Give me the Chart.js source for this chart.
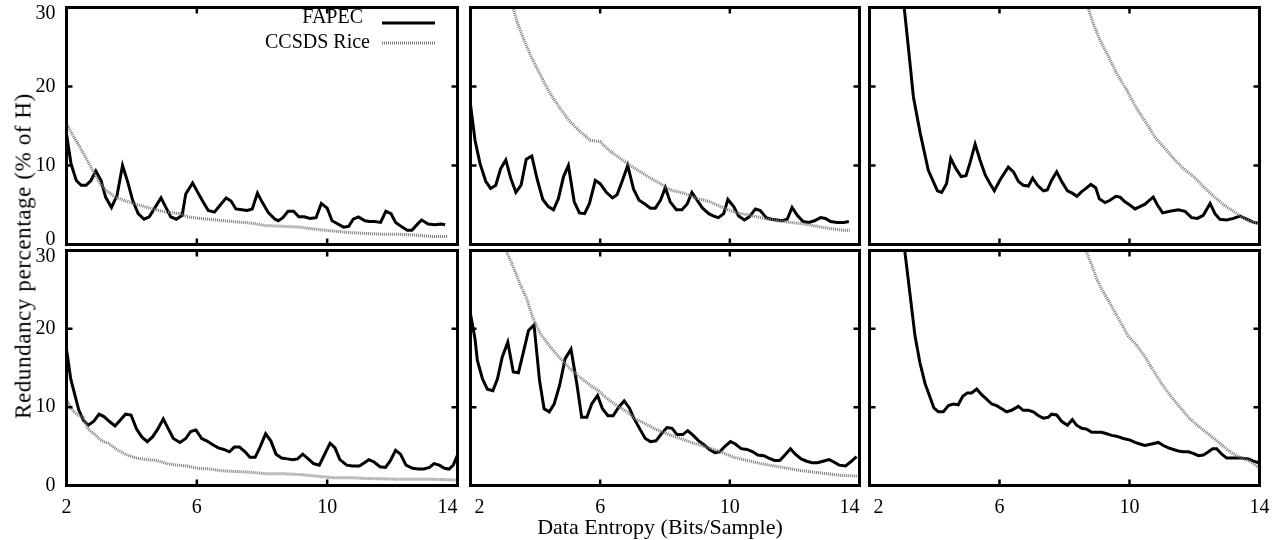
<!DOCTYPE html>
<html><head><meta charset="utf-8">
<script src="https://cdn.jsdelivr.net/npm/chart.js@4.4.1/dist/chart.umd.min.js"></script>
<style>
html,body{margin:0;padding:0;background:#fff;}
#wrap{position:relative;width:1281px;height:540px;overflow:hidden;background:#fff;}
canvas{position:absolute;left:0;top:0;}
.ttl{position:absolute;font-family:"Liberation Serif",serif;color:#000;white-space:nowrap;line-height:1;}
#xt{left:660px;top:527px;font-size:22px;transform:translate(-50%,-50%);}
#yt{left:23px;top:256px;font-size:23px;letter-spacing:0.6px;transform:translate(-50%,-50%) rotate(-90deg);}
</style></head><body>
<div id="wrap">
<canvas id="c0" width="1281" height="540"></canvas>
<canvas id="c1" width="1281" height="540"></canvas>
<canvas id="c2" width="1281" height="540"></canvas>
<canvas id="c3" width="1281" height="540"></canvas>
<canvas id="c4" width="1281" height="540"></canvas>
<canvas id="c5" width="1281" height="540"></canvas>
<div class="ttl" id="xt">Data Entropy (Bits/Sample)</div>
<div class="ttl" id="yt">Redundancy percentage (% of H)</div>
</div>
<script>
// ---- data (entropy in bits/sample, redundancy in % of H) ----
const seriesNames = ["FAPEC", "CCSDS Rice"];
const xTickLabels = [2, 6, 10, 14];
const yTickLabels = [0, 10, 20, 30];

const p1Fapec = [[2.0,14.0],[2.14,10.2],[2.3,8.1],[2.45,7.5],[2.6,7.5],[2.75,8.1],[2.9,9.3],[3.06,8.1],[3.2,6.0],[3.38,4.7],[3.55,6.2],[3.72,10.0],[3.88,7.9],[4.03,5.6],[4.2,3.9],[4.38,3.2],[4.54,3.5],[4.72,4.7],[4.9,5.9],[5.05,4.7],[5.2,3.5],[5.37,3.2],[5.55,3.7],[5.66,6.4],[5.87,7.8],[6.04,6.5],[6.19,5.4],[6.35,4.3],[6.54,4.1],[6.7,4.9],[6.9,5.9],[7.05,5.5],[7.2,4.5],[7.38,4.4],[7.55,4.3],[7.7,4.5],[7.86,6.5],[8.0,5.4],[8.2,4.0],[8.4,3.2],[8.5,3.0],[8.64,3.4],[8.8,4.2],[8.97,4.2],[9.13,3.5],[9.3,3.5],[9.47,3.3],[9.66,3.4],[9.82,5.2],[10.0,4.6],[10.15,3.0],[10.33,2.6],[10.5,2.2],[10.66,2.3],[10.8,3.2],[10.96,3.5],[11.16,3.0],[11.3,2.9],[11.46,2.9],[11.64,2.8],[11.8,4.2],[11.96,3.9],[12.1,2.8],[12.3,2.2],[12.46,1.8],[12.6,1.8],[12.8,2.7],[12.9,3.1],[13.1,2.6],[13.3,2.5],[13.5,2.6],[13.62,2.5]];
const p1Rice = [[2.0,15.3],[2.2,13.8],[2.4,12.4],[2.6,10.9],[2.8,9.4],[3.0,7.9],[3.2,6.9],[3.5,6.0],[3.75,5.6],[4.05,5.2],[4.55,4.6],[5.05,4.1],[5.5,3.9],[5.7,3.5],[6.1,3.3],[6.6,3.1],[7.1,2.9],[7.7,2.7],[8.1,2.4],[8.65,2.3],[9.15,2.2],[9.7,1.9],[10.2,1.7],[10.7,1.5],[11.2,1.4],[11.7,1.3],[12.2,1.3],[12.7,1.2],[13.3,1.0],[13.7,1.0]];

const p2Fapec = [[2.0,17.7],[2.14,13.2],[2.29,10.3],[2.47,8.0],[2.62,7.1],[2.78,7.5],[2.93,9.6],[3.09,10.7],[3.24,8.4],[3.4,6.6],[3.56,7.5],[3.72,10.8],[3.89,11.2],[4.06,8.2],[4.23,5.7],[4.4,4.8],[4.56,4.4],[4.71,5.8],[4.87,8.6],[5.02,10.0],[5.2,5.4],[5.36,4.0],[5.52,3.9],[5.67,5.2],[5.85,8.1],[6.0,7.7],[6.19,6.6],[6.38,5.9],[6.52,6.3],[6.67,7.9],[6.85,10.0],[7.03,7.0],[7.2,5.6],[7.39,5.1],[7.55,4.6],[7.7,4.6],[7.86,5.6],[8.01,7.2],[8.16,5.4],[8.35,4.4],[8.52,4.4],[8.68,5.1],[8.83,6.6],[8.99,5.6],[9.16,4.6],[9.35,3.9],[9.5,3.6],[9.65,3.4],[9.81,3.9],[9.94,5.7],[10.12,4.8],[10.27,3.6],[10.45,3.1],[10.6,3.5],[10.79,4.5],[10.94,4.3],[11.12,3.4],[11.28,3.2],[11.46,3.1],[11.61,3.0],[11.77,3.2],[11.92,4.7],[12.08,3.7],[12.26,2.9],[12.44,2.8],[12.61,3.0],[12.8,3.4],[12.95,3.3],[13.11,2.9],[13.31,2.8],[13.52,2.8],[13.67,2.9]];
const p2Rice = [[3.2,31.5],[3.32,29.9],[3.45,28.0],[3.68,25.6],[3.89,23.6],[4.15,21.5],[4.46,19.1],[4.77,17.2],[5.08,15.5],[5.38,14.3],[5.69,13.2],[6.0,13.0],[6.31,11.8],[6.62,10.9],[6.93,10.0],[7.24,9.2],[7.55,8.4],[7.86,7.7],[8.17,6.9],[8.58,6.5],[9.0,5.8],[9.4,5.4],[9.81,4.6],[10.22,4.0],[10.64,3.7],[11.05,3.3],[11.46,3.0],[11.87,2.8],[12.28,2.6],[12.7,2.3],[13.11,2.0],[13.52,1.8],[13.7,1.8]];

const p3Fapec = [[2.9,36.0],[3.07,29.9],[3.2,24.8],[3.35,18.7],[3.56,14.1],[3.81,9.4],[4.09,6.8],[4.22,6.6],[4.37,7.7],[4.5,10.9],[4.66,9.6],[4.82,8.6],[4.97,8.7],[5.09,10.3],[5.25,12.7],[5.4,10.7],[5.56,8.8],[5.71,7.7],[5.84,6.8],[6.02,8.2],[6.27,9.8],[6.43,9.2],[6.58,8.0],[6.73,7.5],[6.89,7.4],[7.02,8.4],[7.17,7.5],[7.35,6.8],[7.47,6.9],[7.6,8.1],[7.76,9.2],[7.91,8.0],[8.09,6.8],[8.24,6.5],[8.38,6.1],[8.53,6.7],[8.69,7.2],[8.81,7.6],[8.96,7.2],[9.07,5.8],[9.25,5.3],[9.4,5.6],[9.58,6.1],[9.71,6.0],[9.86,5.4],[10.01,5.0],[10.17,4.5],[10.32,4.8],[10.48,5.1],[10.61,5.6],[10.73,6.0],[10.86,5.0],[11.02,4.0],[11.24,4.2],[11.5,4.4],[11.71,4.2],[11.91,3.4],[12.09,3.3],[12.27,3.7],[12.48,5.2],[12.63,3.9],[12.78,3.2],[12.99,3.1],[13.2,3.3],[13.4,3.6],[13.61,3.2],[13.82,2.8],[13.99,2.7]];
const p3Rice = [[8.6,31.5],[8.73,29.9],[8.88,28.0],[9.09,25.9],[9.35,23.8],[9.6,21.7],[9.91,19.6],[10.22,17.2],[10.53,15.3],[10.78,13.6],[11.04,12.4],[11.35,10.9],[11.66,9.6],[11.97,8.6],[12.28,7.3],[12.59,6.1],[12.9,5.0],[13.2,4.2],[13.45,3.5],[13.71,2.9],[13.99,2.6]];

const p4Fapec = [[2.0,17.4],[2.13,13.6],[2.26,11.5],[2.38,9.6],[2.52,8.3],[2.67,7.7],[2.84,8.2],[3.0,9.1],[3.15,8.8],[3.31,8.2],[3.49,7.6],[3.64,8.3],[3.81,9.1],[3.98,9.0],[4.15,7.2],[4.31,6.2],[4.48,5.6],[4.64,6.2],[4.8,7.2],[4.97,8.5],[5.13,7.2],[5.28,6.0],[5.48,5.5],[5.66,6.0],[5.81,6.9],[5.97,7.1],[6.15,6.0],[6.3,5.7],[6.49,5.2],[6.66,4.8],[6.83,4.6],[7.0,4.3],[7.15,4.9],[7.31,4.9],[7.48,4.3],[7.63,3.6],[7.79,3.6],[7.94,4.9],[8.11,6.6],[8.27,5.7],[8.43,4.0],[8.6,3.5],[8.78,3.4],[8.94,3.3],[9.09,3.4],[9.25,4.0],[9.42,3.4],[9.58,2.8],[9.76,2.6],[9.9,3.8],[10.09,5.4],[10.24,4.8],[10.39,3.3],[10.6,2.6],[10.78,2.5],[10.99,2.5],[11.14,2.9],[11.28,3.3],[11.44,3.0],[11.62,2.4],[11.79,2.3],[11.93,3.1],[12.1,4.5],[12.25,4.0],[12.42,2.6],[12.62,2.2],[12.8,2.1],[12.97,2.1],[13.14,2.3],[13.28,2.8],[13.44,2.6],[13.6,2.2],[13.74,2.1],[13.87,2.6],[13.99,3.8]];
const p4Rice = [[2.0,10.9],[2.15,9.8],[2.3,9.1],[2.51,8.7],[2.67,7.2],[2.87,6.5],[3.08,5.7],[3.28,5.4],[3.54,4.6],[3.85,3.9],[4.15,3.5],[4.46,3.3],[4.77,3.2],[5.08,2.8],[5.38,2.6],[5.69,2.5],[6.0,2.2],[6.41,2.1],[6.72,1.9],[7.12,1.8],[7.63,1.7],[8.14,1.5],[8.65,1.5],[9.16,1.4],[9.67,1.2],[10.18,1.0],[10.7,1.0],[11.21,0.9],[11.72,0.85],[12.23,0.8],[12.74,0.8],[13.25,0.8],[13.96,0.7]];

const p5Fapec = [[2.0,21.9],[2.14,18.7],[2.21,16.0],[2.37,13.6],[2.52,12.3],[2.69,12.1],[2.83,13.6],[2.98,16.4],[3.15,18.3],[3.32,14.5],[3.48,14.4],[3.63,17.0],[3.79,19.8],[3.96,20.5],[4.13,13.4],[4.27,9.8],[4.43,9.4],[4.58,10.4],[4.75,12.8],[4.92,16.2],[5.1,17.4],[5.28,13.0],[5.43,8.7],[5.59,8.7],[5.74,10.4],[5.92,11.5],[6.07,9.8],[6.24,8.9],[6.4,8.9],[6.57,10.0],[6.74,10.8],[6.9,9.9],[7.05,8.5],[7.24,7.1],[7.39,6.0],[7.55,5.6],[7.72,5.7],[7.89,6.6],[8.06,7.4],[8.22,7.3],[8.37,6.5],[8.55,6.5],[8.7,7.0],[8.87,6.4],[9.04,5.7],[9.2,5.2],[9.37,4.6],[9.54,4.2],[9.69,4.3],[9.85,5.0],[10.02,5.6],[10.17,5.3],[10.35,4.7],[10.53,4.6],[10.71,4.3],[10.86,3.9],[11.05,3.8],[11.2,3.5],[11.38,3.2],[11.54,3.2],[11.72,4.0],[11.87,4.7],[12.02,4.0],[12.2,3.4],[12.37,3.1],[12.54,2.9],[12.7,2.9],[12.88,3.1],[13.06,3.3],[13.21,3.0],[13.37,2.6],[13.57,2.5],[13.72,3.0],[13.91,3.7]];
const p5Rice = [[3.0,31.2],[3.12,29.8],[3.32,27.9],[3.53,25.7],[3.74,23.8],[3.92,21.4],[4.15,19.4],[4.46,17.7],[4.77,16.2],[5.08,14.9],[5.38,13.8],[5.69,12.8],[5.95,12.1],[6.21,11.1],[6.52,10.2],[6.83,9.4],[7.09,8.5],[7.39,7.9],[7.7,7.2],[8.06,6.6],[8.47,6.0],[8.88,5.4],[9.3,4.9],[9.71,4.3],[10.12,3.6],[10.53,3.2],[10.95,2.8],[11.36,2.5],[11.77,2.2],[12.19,1.9],[12.6,1.7],[13.01,1.5],[13.42,1.3],[13.93,1.2]];

const p6Fapec = [[2.95,35.5],[3.09,29.8],[3.25,24.3],[3.4,19.1],[3.55,15.7],[3.71,13.0],[3.86,11.3],[3.98,9.9],[4.12,9.4],[4.27,9.4],[4.43,10.2],[4.58,10.4],[4.73,10.3],[4.87,11.4],[5.01,11.8],[5.14,11.8],[5.3,12.3],[5.45,11.6],[5.61,11.0],[5.76,10.4],[5.91,10.2],[6.07,9.8],[6.22,9.4],[6.37,9.6],[6.58,10.1],[6.73,9.6],[6.89,9.6],[7.04,9.4],[7.2,8.9],[7.35,8.6],[7.5,8.7],[7.6,9.1],[7.76,9.0],[7.91,8.2],[8.09,7.7],[8.24,8.4],[8.37,7.7],[8.53,7.3],[8.68,7.2],[8.84,6.8],[8.99,6.8],[9.14,6.8],[9.3,6.6],[9.45,6.4],[9.6,6.3],[9.81,6.0],[10.02,5.8],[10.17,5.5],[10.32,5.3],[10.48,5.1],[10.68,5.3],[10.89,5.5],[11.04,5.1],[11.2,4.8],[11.35,4.6],[11.5,4.4],[11.66,4.3],[11.81,4.3],[11.96,4.1],[12.12,3.8],[12.27,3.9],[12.43,4.3],[12.56,4.7],[12.68,4.7],[12.84,4.0],[12.99,3.5],[13.2,3.5],[13.4,3.5],[13.66,3.4],[13.81,3.1],[13.98,2.9]];
const p6Rice = [[8.55,31.3],[8.68,29.8],[8.84,28.1],[8.99,26.4],[9.14,25.1],[9.35,23.6],[9.55,22.1],[9.76,20.6],[9.96,19.1],[10.22,17.9],[10.48,16.4],[10.73,14.7],[10.99,13.0],[11.25,11.5],[11.55,10.0],[11.86,8.5],[12.17,7.4],[12.48,6.4],[12.78,5.4],[13.09,4.3],[13.4,3.6],[13.71,3.1],[13.98,2.3]];

// ---- layout ----
const W = 1281, H = 540;
const cols = [[66.5, 457.5], [470.5, 859.5], [869.5, 1259.5]];
const rows = [[7.5, 244.5], [250.5, 485.5]];
const FONT = '20px "Liberation Serif", serif';
const RICE_COLOR = '#7a7a7a';

const panels = [
  {fapec: p1Fapec, rice: p1Rice, col: 0, row: 0},
  {fapec: p2Fapec, rice: p2Rice, col: 1, row: 0},
  {fapec: p3Fapec, rice: p3Rice, col: 2, row: 0},
  {fapec: p4Fapec, rice: p4Rice, col: 0, row: 1},
  {fapec: p5Fapec, rice: p5Rice, col: 1, row: 1},
  {fapec: p6Fapec, rice: p6Rice, col: 2, row: 1}
];

function toPts(arr) { return arr.map(p => ({x: p[0], y: p[1]})); }

function framePlugin(p) {
  return {
    id: 'frame',
    afterDatasetsDraw(chart) {
      const ctx = chart.ctx, a = chart.chartArea, xs = chart.scales.x, ys = chart.scales.y;
      ctx.save();
      ctx.strokeStyle = '#000';
      ctx.lineWidth = 3;
      ctx.strokeRect(a.left, a.top, a.right - a.left, a.bottom - a.top);
      ctx.beginPath();
      ctx.lineWidth = 2.5;
      xTickLabels.slice(1, -1).forEach(v => {
        const px = xs.getPixelForValue(v);
        ctx.moveTo(px, a.bottom); ctx.lineTo(px, a.bottom - 6);
        ctx.moveTo(px, a.top); ctx.lineTo(px, a.top + 6);
      });
      yTickLabels.slice(1, -1).forEach(v => {
        const py = ys.getPixelForValue(v);
        ctx.moveTo(a.left, py); ctx.lineTo(a.left + 6, py);
        ctx.moveTo(a.right, py); ctx.lineTo(a.right - 6, py);
      });
      ctx.stroke();
      ctx.fillStyle = '#000';
      ctx.font = FONT;
      if (p.col === 0) {
        ctx.textAlign = 'right'; ctx.textBaseline = 'middle';
        const nudge = p.row === 0 ? [-5, 0, 0, 6] : [0, 0, 0, 6];
        yTickLabels.forEach((v, i) => ctx.fillText(String(v), a.left - 11, ys.getPixelForValue(v) + nudge[i]));
      }
      if (p.row === 1) {
        ctx.textAlign = 'center'; ctx.textBaseline = 'middle';
        const nudge = p.col === 0 ? [0, 0, 0, -10] : (p.col === 1 ? [9, 0, 0, -10] : [9, 0, 0, 0]);
        xTickLabels.forEach((v, i) => ctx.fillText(String(v), xs.getPixelForValue(v) + nudge[i], a.bottom + 22));
      }
      if (p.col === 0 && p.row === 0) {
        ctx.textAlign = 'right'; ctx.textBaseline = 'middle';
        ctx.fillText(seriesNames[0], 363, 18);
        ctx.fillText(seriesNames[1], 370, 43);
        ctx.beginPath();
        ctx.lineWidth = 3; ctx.strokeStyle = '#000';
        ctx.moveTo(382, 23); ctx.lineTo(435, 23); ctx.stroke();
        ctx.beginPath();
        ctx.setLineDash([1, 1]);
        ctx.strokeStyle = RICE_COLOR;
        ctx.moveTo(382, 43); ctx.lineTo(435, 43); ctx.stroke();
        ctx.setLineDash([]);
      }
      ctx.restore();
    }
  };
}

panels.forEach((p, i) => {
  const [L, R] = cols[p.col];
  const [T, B] = rows[p.row];
  new Chart(document.getElementById('c' + i), {
    type: 'line',
    data: {
      datasets: [
        {label: seriesNames[1], data: toPts(p.rice), borderColor: RICE_COLOR, borderWidth: 3, borderDash: [1, 1], pointRadius: 0, fill: false, tension: 0},
        {label: seriesNames[0], data: toPts(p.fapec), borderColor: '#000', borderWidth: 3, pointRadius: 0, fill: false, tension: 0}
      ]
    },
    options: {
      responsive: false,
      animation: false,
      devicePixelRatio: 1,
      events: [],
      layout: {padding: {left: L, top: T, right: W - R, bottom: H - B}},
      scales: {
        x: {type: 'linear', min: 2, max: 14, display: false},
        y: {type: 'linear', min: 0, max: 30, display: false}
      },
      plugins: {legend: {display: false}, tooltip: {enabled: false}}
    },
    plugins: [framePlugin(p)]
  });
});
</script>
</body></html>
